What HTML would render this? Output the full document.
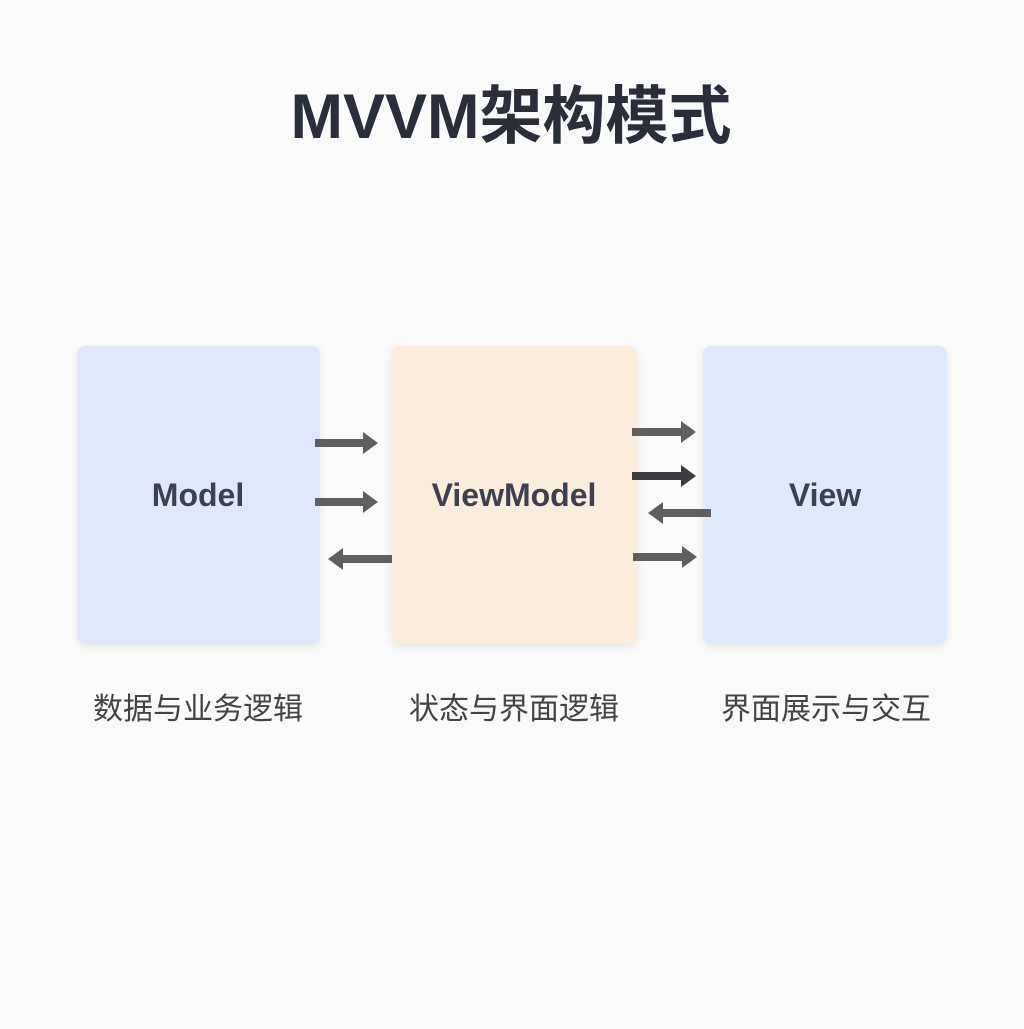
<!DOCTYPE html>
<html><head><meta charset="utf-8"><style>
body{margin:0;width:1024px;height:1024px;background:#fafafa;font-family:"Liberation Sans","Noto Sans CJK SC",sans-serif;overflow:hidden}
</style></head><body>
<svg width="1024" height="1024" xmlns="http://www.w3.org/2000/svg">
<defs><filter id="s" x="-10%" y="-10%" width="120%" height="120%"><feDropShadow dx="0" dy="3" stdDeviation="4" flood-color="#000" flood-opacity="0.08"/></filter></defs>
<rect width="1024" height="1024" fill="#fafafa"/>
<text x="511" y="138" text-anchor="middle" font-size="63" font-weight="bold" fill="#2a2d3a" font-family="Liberation Sans,Noto Sans CJK SC,sans-serif">MVVM架构模式</text>
<rect x="77" y="346" width="243" height="298" rx="8" fill="#dfe8fb" filter="url(#s)"/>
<rect x="391" y="346" width="246" height="298" rx="8" fill="#fcecdc" filter="url(#s)"/>
<rect x="703" y="346" width="244" height="298" rx="8" fill="#dceafb" filter="url(#s)"/>
<g font-size="32" font-weight="bold" fill="#3d4050" text-anchor="middle" font-family="Liberation Sans,sans-serif">
<text x="198" y="506">Model</text>
<text x="514" y="506">ViewModel</text>
<text x="825" y="506">View</text>
</g>
<g font-size="30" fill="#444" text-anchor="middle" font-family="Liberation Sans,Noto Sans CJK SC,sans-serif">
<text x="198" y="719">数据与业务逻辑</text>
<text x="514" y="719">状态与界面逻辑</text>
<text x="826" y="719">界面展示与交互</text>
</g>
<g fill="#5f5f5f">
<path d="M315 439h48v-7l15 11-15 11v-7h-48z"/>
<path d="M315 498h48v-7l15 11-15 11v-7h-48z"/>
<path d="M392 555h-49v-7l-15 11 15 11v-7h49z"/>
<path d="M632 428h49v-7l15 11-15 11v-7h-49z"/>
<path d="M632 472h49v-7l15 11-15 11v-7h-49z" fill="#3c3d44"/>
<path d="M711 509h-48v-7l-15 11 15 11v-7h48z"/>
<path d="M633 553h49v-7l15 11-15 11v-7h-49z"/>
</g>
</svg>
</body></html>
